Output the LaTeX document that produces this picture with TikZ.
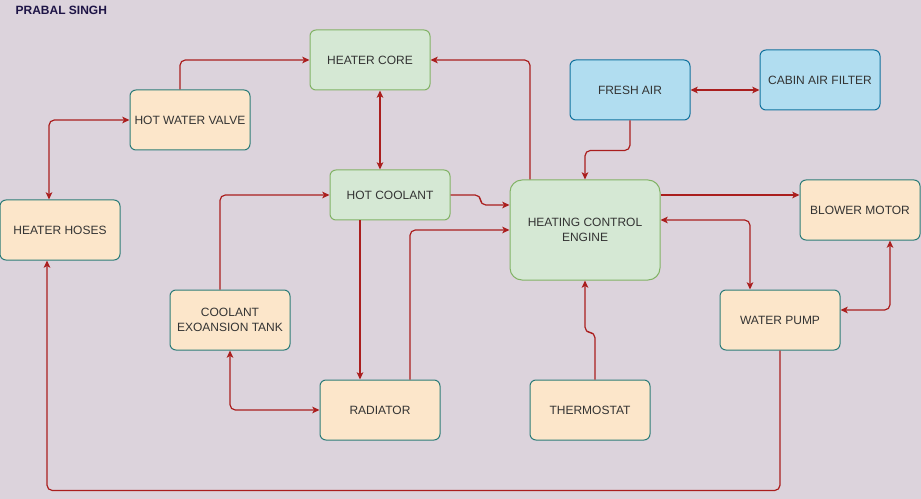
\documentclass[tikz,border=0pt]{standalone}
\usepackage{fontspec}
\setmainfont{Liberation Sans}
\usetikzlibrary{arrows.meta}

\definecolor{bgcol}{RGB}{220,211,220}
\definecolor{txtcol}{RGB}{51,51,51}
\definecolor{titlecol}{RGB}{30,20,70}
\definecolor{linkred}{RGB}{170,30,30}
\definecolor{orangefill}{RGB}{252,230,202}
\definecolor{orangeline}{RGB}{45,125,120}
\definecolor{greenfill}{RGB}{213,232,212}
\definecolor{greenline}{RGB}{130,179,102}
\definecolor{bluefill}{RGB}{177,221,240}
\definecolor{blueline}{RGB}{16,115,158}

\tikzset{every picture/.style={line width=0.9pt}}
\tikzset{
  blk/.style={rounded corners=4.5pt, minimum width=90pt, minimum height=45pt, align=center,
    inner sep=0.75pt, font=\fontsize{9}{11.25}\selectfont, text=txtcol, line width=0.75pt},
  orangeblk/.style={blk, draw=orangeline, fill=orangefill},
  greenblk/.style={blk, draw=greenline, fill=greenfill},
  blueblk/.style={blk, draw=blueline, fill=bluefill},
  flow/.style={draw=linkred, rounded corners=4pt, -{Stealth[length=5.5pt,width=5pt,inset=1.5pt]}},
  bothflow/.style={flow, {Stealth[length=5.5pt,width=5pt,inset=1.5pt]}-{Stealth[length=5.5pt,width=5pt,inset=1.5pt]}},
}

\begin{document}
\begin{tikzpicture}[x=0.75pt,y=0.75pt,yscale=-1]
%Background
\fill [bgcol] (0,0) rectangle (921,499) ;
\useasboundingbox (0,0) rectangle (921,499) ;
% Title
\node (title) [anchor=west, inner sep=0pt, font=\fontsize{9}{10}\selectfont\bfseries, text=titlecol] at (15,10) {PRABAL SINGH};
% Blocks
\node (core) [greenblk] at (370,60) {HEATER CORE};
\node (valve) [orangeblk] at (190,120) {HOT WATER VALVE};
\node (hoses) [orangeblk] at (60,230) {HEATER HOSES};
\node (coolant) [greenblk, minimum height=37.5pt] at (390,195) {HOT COOLANT};
\node (tank) [orangeblk] at (230,320) {COOLANT\\EXOANSION TANK};
\node (radiator) [orangeblk] at (380,410) {RADIATOR};
\node (thermo) [orangeblk] at (590,410) {THERMOSTAT};
\node (engine) [greenblk, minimum width=112.5pt, minimum height=75pt, rounded corners=9pt] at (585,230) {HEATING CONTROL\\ENGINE};
\node (fresh) [blueblk] at (630,90) {FRESH AIR};
\node (filter) [blueblk] at (820,80) {CABIN AIR FILTER};
\node (blower) [orangeblk] at (860,210) {BLOWER MOTOR};
\node (pump) [orangeblk] at (780,320) {WATER PUMP};
% Connectors
\draw [flow] ([xshift=-7.5pt]valve.north) |- (core.west) ;
\draw [bothflow] ([xshift=-8.25pt]hoses.north) |- (valve.west) ;
\draw [bothflow] ([xshift=7.5pt]core.south) -- ([xshift=-7.5pt]coolant.north) ;
\draw [flow] ([xshift=-41.25pt]engine.north) |- (core.east) ;
\draw [flow] (coolant.east) -- ++(30,0) |- ([yshift=-18.75pt]engine.west) ;
\draw [flow] ([xshift=-7.5pt]tank.north) |- (coolant.west) ;
\draw [flow] ([xshift=-22.5pt]coolant.south) -- ([xshift=-15pt]radiator.north) ;
\draw [flow] ([xshift=22.5pt]radiator.north) |- (engine.west) ;
\draw [bothflow] (tank.south) |- (radiator.west) ;
\draw [flow] ([xshift=3.75pt]thermo.north) -- ++(0,-47) -| (engine.south) ;
\draw [flow] (fresh.south) -- ++(0,30) -| (engine.north) ;
\draw [bothflow] (fresh.east) -- ([yshift=7.5pt]filter.west) ;
\draw [flow] ([yshift=-26.25pt]engine.east) -- ([yshift=-11.25pt]blower.west) ;
\draw [bothflow] ([yshift=-7.5pt]engine.east) -| ([xshift=-22.5pt]pump.north) ;
\draw [bothflow] ([xshift=22.5pt]blower.south) |- ([yshift=-7.5pt]pump.east) ;
\draw [flow] (pump.south) -- ++(0,140) -| ([xshift=-9.75pt]hoses.south) ;
\end{tikzpicture}
\end{document}
